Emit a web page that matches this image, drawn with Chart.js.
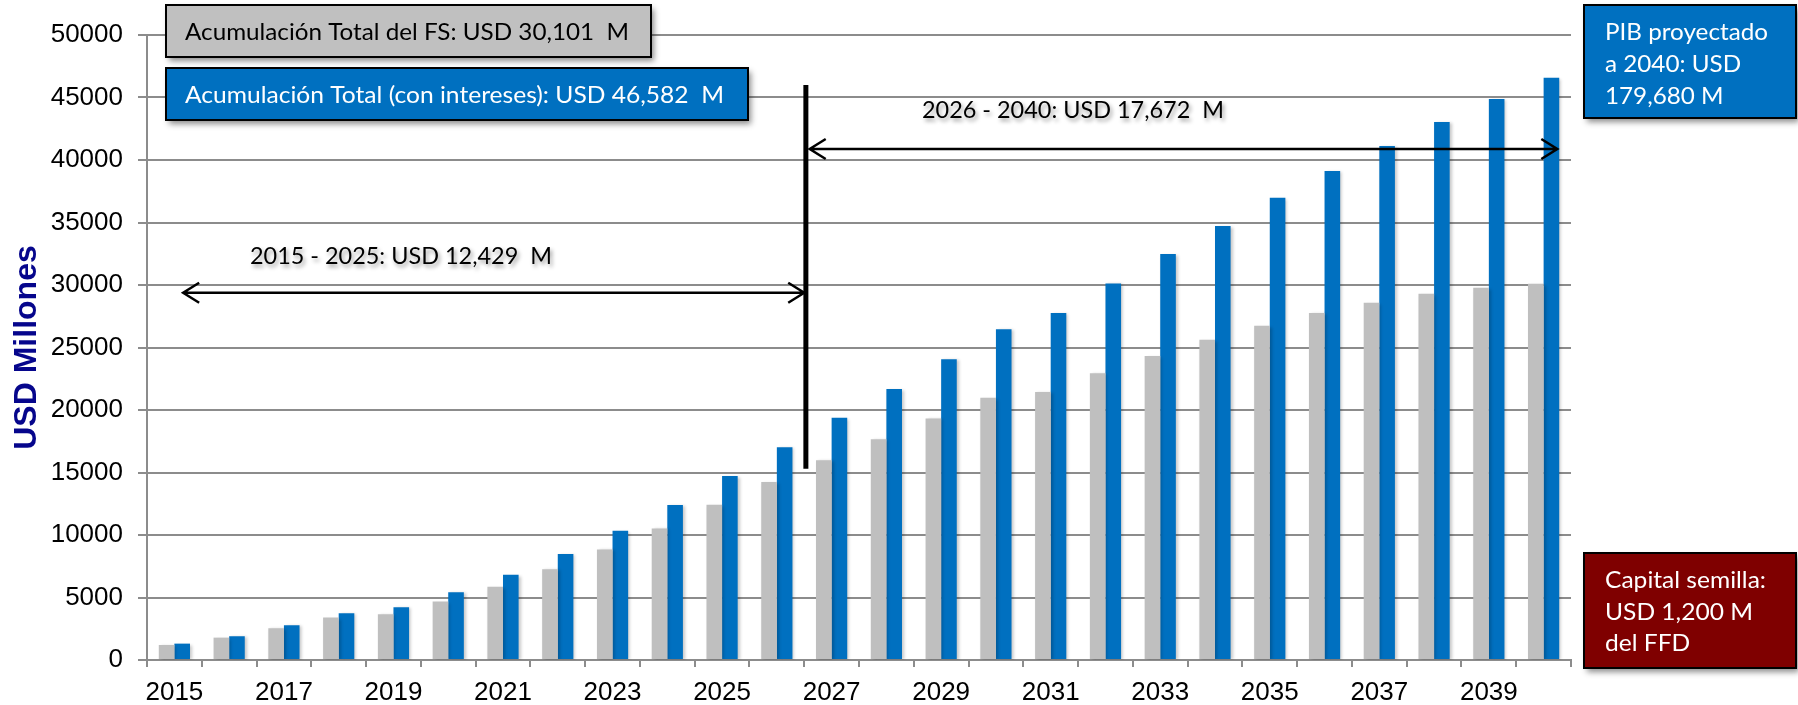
<!DOCTYPE html>
<html>
<head>
<meta charset="utf-8">
<script src="https://cdn.jsdelivr.net/npm/chart.js@4.4.1/dist/chart.umd.min.js"></script>
<style>
  html, body { margin: 0; padding: 0; background: #fff; }
  canvas { display: block; }
</style>
</head>
<body>
<canvas id="fund-chart" width="1798" height="705"></canvas>
<script>
// Years on the x axis
const years = ['2015', '2016', '2017', '2018', '2019', '2020', '2021', '2022', '2023', '2024', '2025', '2026', '2027',
  '2028', '2029', '2030', '2031', '2032', '2033', '2034', '2035', '2036', '2037', '2038', '2039', '2040'];

// Acumulación del FS (gray) and with interest (blue), USD millones
const fundTotal = [1200, 1790, 2540, 3400, 3660, 4680, 5860, 7270, 8850, 10530, 12429, 14250, 15990,
  17670, 19330, 20990, 21440, 22940, 24330, 25615, 26740, 27755, 28580, 29300, 29780, 30101];
const withInterest = [1310, 1900, 2780, 3740, 4220, 5430, 6820, 8480, 10350, 12400, 14730, 17030, 19385,
  21685, 24065, 26470, 27755, 30130, 32490, 34730, 36980, 39120, 41120, 43040, 44880, 46582];

const yTickValues = [0, 5000, 10000, 15000, 20000, 25000, 30000, 35000, 40000, 45000, 50000];
const shownYearLabels = ['2015', '2017', '2019', '2021', '2023', '2025', '2027', '2029', '2031', '2033', '2035', '2037', '2039'];

// Range markers, in data units (category index, value)
const rangeTexts = ['2015 - 2025: USD 12,429  M', '2026 - 2040: USD 17,672  M'];
const rangeTextAt = [[1.38, 31680], [13.65, 43360]];
const rangeArrows = [[0.16, 11.5, 29380], [11.6, 25.25, 40880]];
const dividerAt = [11.53, 15300, 46000];

const boxTexts = {
  fs: ['Acumulación Total del FS: USD 30,101  M'],
  interest: ['Acumulación Total (con intereses): USD 46,582  M'],
  pib: ['PIB proyectado', 'a 2040: USD', '179,680 M'],
  seed: ['Capital semilla:', 'USD 1,200 M', 'del FFD']
};

const GRAY = '#BFBFBF';
const BLUE = '#0070C0';
const GRID = '#8C8C8C';
const NOTE_FONT = '23px Lato';

function fitText(ctx, text, x, y, sx) {
  ctx.save();
  ctx.translate(x, y);
  ctx.scale(sx, 1);
  ctx.fillText(text, 0, 0);
  ctx.restore();
}

function scaleFor(ctx, text, width) {
  return width / ctx.measureText(text).width;
}

function drawBox(ctx, x, y, w, h, fill) {
  ctx.save();
  ctx.shadowColor = 'rgba(0,0,0,0.45)';
  ctx.shadowBlur = 6;
  ctx.shadowOffsetX = 3;
  ctx.shadowOffsetY = 4;
  ctx.fillStyle = fill;
  ctx.fillRect(x, y, w, h);
  ctx.restore();
  ctx.lineWidth = 2;
  ctx.strokeStyle = '#000';
  ctx.strokeRect(x, y, w, h);
}

function drawArrow(ctx, x1, x2, y) {
  ctx.beginPath();
  ctx.moveTo(x1, y);
  ctx.lineTo(x2, y);
  ctx.moveTo(x1 + 16, y - 10);
  ctx.lineTo(x1, y);
  ctx.lineTo(x1 + 16, y + 10);
  ctx.moveTo(x2 - 16, y - 10);
  ctx.lineTo(x2, y);
  ctx.lineTo(x2 - 16, y + 10);
  ctx.stroke();
}

const barShadow = {
  id: 'barShadow',
  beforeDatasetsDraw(chart) {
    const ctx = chart.ctx;
    ctx.save();
    ctx.shadowColor = 'rgba(0,0,0,0.22)';
    ctx.shadowBlur = 3;
    ctx.shadowOffsetX = 2;
    ctx.shadowOffsetY = 1;
  },
  afterDatasetsDraw(chart) {
    chart.ctx.restore();
  }
};

const notes = {
  id: 'notes',
  afterDraw(chart) {
    const ctx = chart.ctx;
    const xs = chart.scales.x;
    const ys = chart.scales.y;
    ctx.save();

    // divider line between 2026 and 2027
    ctx.strokeStyle = '#000';
    ctx.lineWidth = 5;
    ctx.beginPath();
    const dx = xs.getPixelForValue(dividerAt[0]);
    ctx.moveTo(dx, ys.getPixelForValue(dividerAt[1]));
    ctx.lineTo(dx, ys.getPixelForValue(dividerAt[2]));
    ctx.stroke();

    // arrows
    ctx.lineWidth = 2.5;
    rangeArrows.forEach(a => {
      drawArrow(ctx, xs.getPixelForValue(a[0]), xs.getPixelForValue(a[1]), ys.getPixelForValue(a[2]));
    });

    // range labels with soft shadow
    ctx.font = NOTE_FONT;
    ctx.textBaseline = 'alphabetic';
    ctx.textAlign = 'left';
    rangeTexts.forEach((t, i) => {
      ctx.save();
      ctx.shadowColor = 'rgba(0,0,0,0.4)';
      ctx.shadowBlur = 4;
      ctx.shadowOffsetX = 2;
      ctx.shadowOffsetY = 3;
      ctx.fillStyle = '#000';
      fitText(ctx, t, xs.getPixelForValue(rangeTextAt[i][0]), ys.getPixelForValue(rangeTextAt[i][1]), scaleFor(ctx, t, 302));
      ctx.restore();
    });

    // boxes
    drawBox(ctx, 166, 5, 485, 52, '#C0C0C0');
    ctx.fillStyle = '#000';
    fitText(ctx, boxTexts.fs[0], 185, 40, scaleFor(ctx, boxTexts.fs[0], 444));

    drawBox(ctx, 166, 68, 582, 52, BLUE);
    ctx.fillStyle = '#fff';
    fitText(ctx, boxTexts.interest[0], 185, 103, scaleFor(ctx, boxTexts.interest[0], 539));

    drawBox(ctx, 1584, 5, 212, 113, BLUE);
    ctx.fillStyle = '#fff';
    let sx = scaleFor(ctx, boxTexts.pib[0], 163);
    boxTexts.pib.forEach((t, i) => fitText(ctx, t, 1605, 40 + i * 32, sx));

    drawBox(ctx, 1584, 553, 212, 115, '#7F0000');
    ctx.fillStyle = '#fff';
    sx = scaleFor(ctx, boxTexts.seed[0], 161);
    boxTexts.seed.forEach((t, i) => fitText(ctx, t, 1605, 588 + i * 31.5, sx));

    ctx.restore();
  }
};

new Chart(document.getElementById('fund-chart'), {
  type: 'bar',
  data: {
    labels: years,
    datasets: [
      { label: 'Acumulación Total del FS', data: fundTotal, backgroundColor: GRAY },
      { label: 'Acumulación Total (con intereses)', data: withInterest, backgroundColor: BLUE }
    ]
  },
  options: {
    responsive: false,
    animation: false,
    categoryPercentage: 0.57,
    barPercentage: 1.0,
    layout: { padding: { left: 0, right: 227, top: 35, bottom: 0 } },
    plugins: {
      legend: { display: false },
      tooltip: { enabled: false }
    },
    scales: {
      x: {
        grid: { offset: true, drawOnChartArea: false, drawTicks: true, tickLength: 7, color: GRID, lineWidth: 2 },
        border: { color: GRID, width: 2 },
        ticks: {
          autoSkip: false,
          maxRotation: 0,
          padding: 10,
          color: '#000',
          font: { family: 'Liberation Sans', size: 26 },
          callback: function(value) {
            const y = this.getLabelForValue(value);
            return shownYearLabels.includes(y) ? y : '';
          }
        },
        afterFit: scale => { scale.height = 45; }
      },
      y: {
        min: 0,
        max: 50000,
        afterBuildTicks: scale => { scale.ticks = yTickValues.map(v => ({ value: v })); },
        grid: { color: GRID, lineWidth: 2, tickLength: 9 },
        border: { color: GRID, width: 2 },
        ticks: {
          padding: 15,
          color: '#000',
          font: { family: 'Liberation Sans', size: 26 },
          callback: value => String(value)
        },
        title: {
          display: true,
          text: 'USD Millones',
          color: '#06068C',
          font: { family: 'Liberation Sans', size: 32, weight: 'bold' },
          padding: { top: 8, bottom: 0 }
        },
        afterFit: scale => { scale.width = 147; }
      }
    }
  },
  plugins: [barShadow, notes]
});
</script>
</body>
</html>
